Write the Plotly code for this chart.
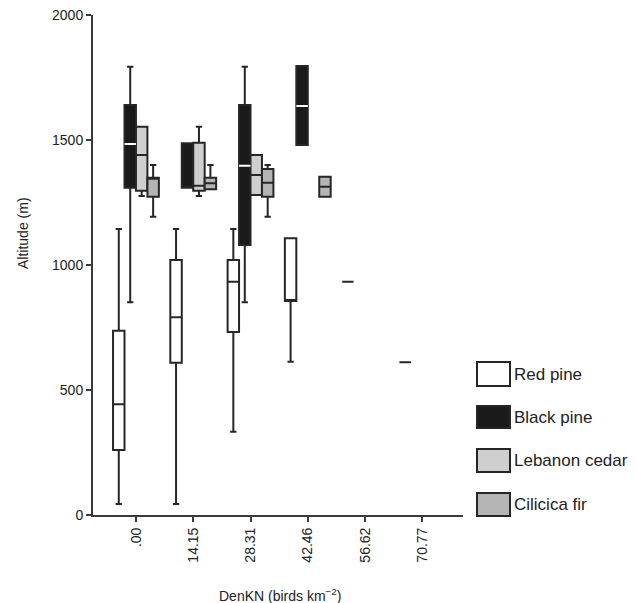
import plotly.graph_objects as go

# ---------------- data ----------------
categories = [".00", "14.15", "28.31", "42.46", "56.62", "70.77"]

# Red pine (per category: lower whisker, Q1, median, Q3, upper whisker)
red_lf  = [44, 44, 333, 613, 933, 611]
red_q1  = [260, 609, 732, 856, 933, 611]
red_med = [443, 791, 933, 856, 933, 611]
red_q3  = [737, 1020, 1020, 1107, 933, 611]
red_uf  = [1144, 1144, 1144, 1107, 933, 611]

# Black pine
black_lf  = [851, 1309, 851, 1480, None, None]
black_q1  = [1309, 1309, 1080, 1480, None, None]
black_med = [1484, 1309, 1397, 1636, None, None]
black_q3  = [1640, 1487, 1640, 1796, None, None]
black_uf  = [1793, 1487, 1793, 1796, None, None]

# Lebanon cedar
cedar_lf  = [1276, 1276, 1280, None, None, None]
cedar_q1  = [1297, 1297, 1280, None, None, None]
cedar_med = [1440, 1317, 1360, None, None, None]
cedar_q3  = [1553, 1489, 1440, None, None, None]
cedar_uf  = [1553, 1553, 1440, None, None, None]

# Cilicica fir
fir_lf  = [1193, 1303, 1193, 1273, None, None]
fir_q1  = [1273, 1303, 1273, 1273, None, None]
fir_med = [1349, 1327, 1329, 1313, None, None]
fir_q3  = [1349, 1349, 1384, 1353, None, None]
fir_uf  = [1400, 1400, 1400, 1353, None, None]

species = ["Red pine", "Black pine", "Lebanon cedar", "Cilicica fir"]
fills = ["#ffffff", "#1a1a1a", "#cfcfcf", "#b4b4b4"]
OUTLINE = "#262626"
FONT = "Liberation Sans, Arial, sans-serif"
TXT = "#222222"

series = [
    (red_lf, red_q1, red_med, red_q3, red_uf),
    (black_lf, black_q1, black_med, black_q3, black_uf),
    (cedar_lf, cedar_q1, cedar_med, cedar_q3, cedar_uf),
    (fir_lf, fir_q1, fir_med, fir_q3, fir_uf),
]

fig = go.Figure()

for k, (name, fill, (lf, q1, med, q3, uf)) in enumerate(zip(species, fills, series)):
    idx = [i for i, v in enumerate(q1) if v is not None]
    fig.add_trace(go.Box(
        name=name,
        x=[categories[i] for i in idx],
        lowerfence=[lf[i] for i in idx],
        q1=[q1[i] for i in idx],
        median=[med[i] for i in idx],
        q3=[q3[i] for i in idx],
        upperfence=[uf[i] for i in idx],
        fillcolor=fill,
        line=dict(color=OUTLINE, width=2),
        whiskerwidth=0.55,
        offsetgroup=str(k),
        alignmentgroup="a",
        boxpoints=False,
        showlegend=False,
        hoverinfo="skip",
    ))

# white median line for the black pine boxes (only where it lies inside the box)
idx = [i for i, v in enumerate(black_med)
       if v is not None and black_q1[i] < v < black_q3[i]]
fig.add_trace(go.Box(
    x=[categories[i] for i in idx],
    lowerfence=[black_med[i] for i in idx],
    q1=[black_med[i] for i in idx],
    median=[black_med[i] for i in idx],
    q3=[black_med[i] for i in idx],
    upperfence=[black_med[i] for i in idx],
    fillcolor="#ffffff",
    line=dict(color="#ffffff", width=2),
    whiskerwidth=0,
    offsetgroup="1",
    alignmentgroup="a",
    boxpoints=False,
    showlegend=False,
    hoverinfo="skip",
))

# ---------------- layout ----------------
# the page body has an 8px default margin; compensate so that screen pixels match
OFF = 8
W, H = 636 - OFF, 603 - OFF
# plot area in screen pixels
L, R, T, B = 93, 463, 15, 515


def px_x(x):
    return (x - L) / (R - L)


def px_y(y):
    return (B - y) / (B - T)


fig.update_layout(
    template="none",
    width=W, height=H, autosize=False,
    margin=dict(l=L - OFF, r=W - (R - OFF), t=T - OFF, b=H - (B - OFF), pad=0,
                autoexpand=False),
    paper_bgcolor="white", plot_bgcolor="white",
    boxmode="group", boxgap=0.2, boxgroupgap=0,
    font=dict(family=FONT, size=14, color=TXT),
    showlegend=False,
)
fig.update_xaxes(
    type="category", categoryorder="array", categoryarray=categories,
    range=[-0.75, 5.71], automargin=False,
    showline=True, linecolor="#3a3a3a", linewidth=2,
    ticks="outside", ticklen=5, tickwidth=2, tickcolor="#3a3a3a",
    tickangle=-90, showgrid=False, zeroline=False,
    tickfont=dict(family=FONT, size=14, color=TXT),
)
fig.update_yaxes(
    range=[0, 2000], tickvals=[0, 500, 1000, 1500, 2000], automargin=False,
    ticklabeloverflow="allow",
    showline=True, linecolor="#3a3a3a", linewidth=2,
    ticks="outside", ticklen=5, tickwidth=2, tickcolor="#3a3a3a",
    showgrid=False, zeroline=False,
    tickfont=dict(family=FONT, size=14, color=TXT),
)

annotations = [
    dict(text="Altitude (m)", x=px_x(23), y=px_y(233), xref="paper", yref="paper",
         xanchor="center", yanchor="middle",
         showarrow=False, textangle=-90, font=dict(family=FONT, size=14, color=TXT)),
    dict(text="DenKN (birds km<sup>\u22122</sup>)", x=px_x(280), y=px_y(595),
         xref="paper", yref="paper", xanchor="center", yanchor="middle",
         showarrow=False, font=dict(family=FONT, size=14, color=TXT)),
]

# custom legend
leg_rows = [(362, 386), (406, 428), (449, 472), (493, 516)]
shapes = []
for name, fill, (y0, y1) in zip(species, fills, leg_rows):
    shapes.append(dict(type="rect", xref="paper", yref="paper",
                       x0=px_x(477), x1=px_x(510), y0=px_y(y1), y1=px_y(y0),
                       fillcolor=fill, line=dict(color=OUTLINE, width=2)))
    annotations.append(dict(text=name, x=px_x(512), y=px_y((y0 + y1) / 2),
                            xref="paper", yref="paper", xanchor="left", yanchor="middle",
                            showarrow=False, font=dict(family=FONT, size=17, color=TXT)))

fig.update_layout(annotations=annotations, shapes=shapes)

fig.write_html("out.html")
